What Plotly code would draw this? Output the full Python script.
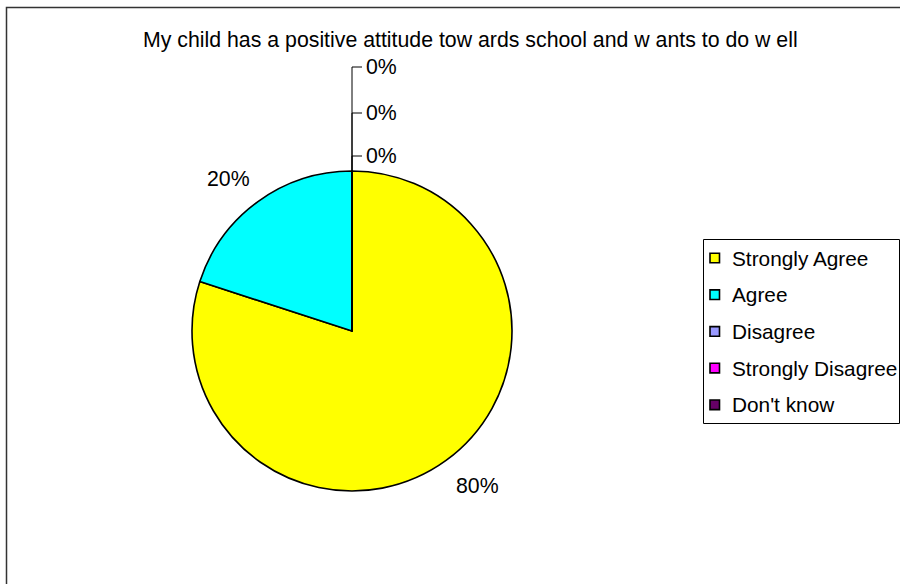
import math
import plotly.graph_objects as go

# ---- data ----
title_text = "My child has a positive attitude tow ards school and w ants to do w ell"
categories = ["Strongly Agree", "Agree", "Disagree", "Strongly Disagree", "Don't know"]
values = [80, 20, 0, 0, 0]
colors = ["#FFFF00", "#00FFFF", "#9999FF", "#FF00FF", "#660066"]

W, H = 900, 584
FONT = "Liberation Sans, Arial, sans-serif"
FS = 21.3
FS_LEG = 20.8

def px(x):
    return x / W

def py(y):
    return 1 - y / H

# pie geometry (pixels)
cx, cy, r = 352, 331, 160

fig = go.Figure()
fig.add_trace(go.Pie(
    labels=categories,
    values=values,
    marker=dict(colors=colors, line=dict(color="black", width=1.6)),
    sort=False,
    direction="clockwise",
    rotation=0,
    textinfo="none",
    hoverinfo="label+percent",
    showlegend=False,
    domain=dict(x=[px(cx - r), px(cx + r)], y=[py(cy + r), py(cy - r)]),
))

annotations = []
shapes = []

# outer border of chart area
shapes.append(dict(type="rect", xref="paper", yref="paper",
                   x0=px(6.5), x1=px(W + 20), y0=py(H + 20), y1=py(7.5),
                   line=dict(color="#333333", width=1.5), fillcolor="rgba(0,0,0,0)"))

# title
annotations.append(dict(text=title_text, x=px(470), y=py(40), xref="paper", yref="paper",
                        showarrow=False, xanchor="center", yanchor="middle",
                        font=dict(family=FONT, size=FS, color="black")))

# data labels
total = sum(values)
cum = 0.0
zero_idx = 0
zero_ys = [156, 113, 67]
for v in values:
    pct = v / total
    start = cum
    cum += pct
    mid = (start + cum) / 2 * 2 * math.pi
    label = f"{round(pct * 100)}%"
    if v > 0:
        sx = math.sin(mid)
        sy = math.cos(mid)
        lr = r + (10 if sy >= 0 else 14)
        lx = cx + sx * lr
        ly = cy - sy * lr
        annotations.append(dict(text=label, x=px(lx), y=py(ly), xref="paper", yref="paper",
                                showarrow=False,
                                xanchor="left" if sx >= 0 else "right",
                                yanchor="bottom" if sy >= 0 else "top",
                                font=dict(family=FONT, size=FS, color="black")))
    else:
        ang = start * 2 * math.pi
        ax = cx + math.sin(ang) * r
        ay = cy - math.cos(ang) * r
        ly = zero_ys[zero_idx]
        zero_idx += 1
        shapes.append(dict(type="line", xref="paper", yref="paper",
                           x0=px(ax), x1=px(ax), y0=py(ay), y1=py(ly),
                           line=dict(color="black", width=1)))
        shapes.append(dict(type="line", xref="paper", yref="paper",
                           x0=px(ax), x1=px(ax + 10), y0=py(ly), y1=py(ly),
                           line=dict(color="black", width=1)))
        annotations.append(dict(text=label, x=px(ax + 12), y=py(ly), xref="paper", yref="paper",
                                showarrow=False, xanchor="left", yanchor="middle",
                                font=dict(family=FONT, size=FS, color="black")))

# legend (manual, Excel style)
lx0, lx1, ly0, ly1 = 703.5, 899.5, 239.5, 423.5
shapes.append(dict(type="rect", xref="paper", yref="paper",
                   x0=px(lx0), x1=px(lx1), y0=py(ly1), y1=py(ly0),
                   line=dict(color="black", width=1), fillcolor="white", layer="below"))
first_y, step = 258, 36.7
for i, (cat, col) in enumerate(zip(categories, colors)):
    yy = first_y + i * step
    shapes.append(dict(type="rect", xref="paper", yref="paper",
                       x0=px(710), x1=px(719.5), y0=py(yy + 4.8), y1=py(yy - 4.8),
                       line=dict(color="black", width=1.6), fillcolor=col))
    annotations.append(dict(text=cat, x=px(730), y=py(yy), xref="paper", yref="paper",
                            showarrow=False, xanchor="left", yanchor="middle",
                            font=dict(family=FONT, size=FS_LEG, color="black")))

fig.update_layout(
    width=W, height=H,
    margin=dict(l=0, r=0, t=0, b=0),
    paper_bgcolor="white",
    plot_bgcolor="white",
    showlegend=False,
    shapes=shapes,
    annotations=annotations,
    font=dict(family=FONT, size=FS, color="black"),
)

fig.write_html("out.html",
               config={"displayModeBar": False},
               post_script="document.body.style.margin='0';document.body.style.padding='0';")
